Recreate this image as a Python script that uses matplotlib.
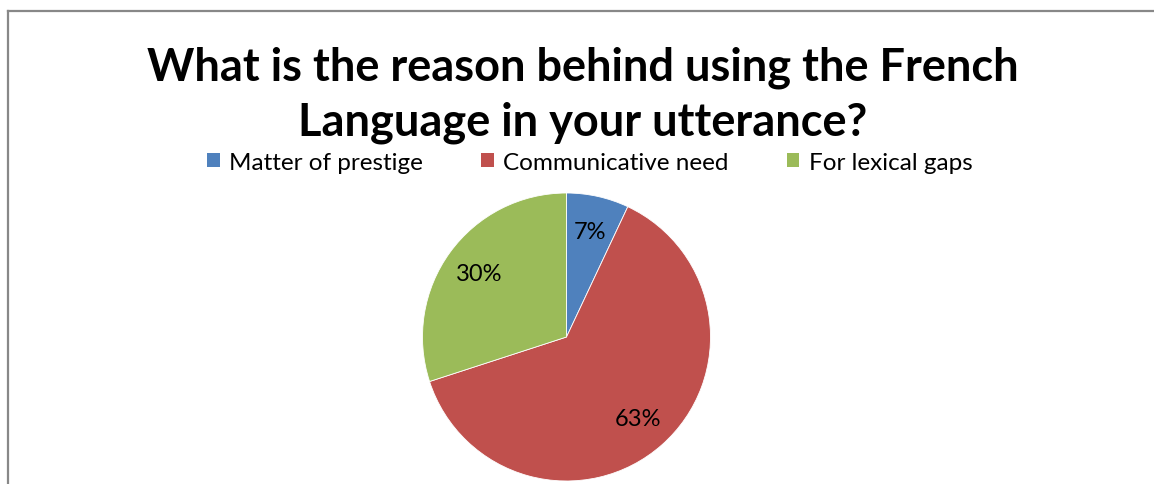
import numpy as np
import matplotlib.pyplot as plt
from matplotlib.lines import Line2D
from matplotlib.patches import Patch

plt.rcParams['font.family'] = ['Lato', 'DejaVu Sans']

# Survey answers
reasons = ["Matter of prestige", "Communicative need", "For lexical gaps"]
shares = [7, 63, 30]
colors = ['#4F81BD', '#C0504D', '#9BBB59']

W, H = 1154, 485
fig = plt.figure(figsize=(W / 100, H / 100), dpi=100)
fig.patch.set_facecolor('white')

# chart frame (top and left edges)
fig.add_artist(Line2D([8 / W, 1.0], [1 - 12 / H, 1 - 12 / H], color='#888888', lw=1.6))
fig.add_artist(Line2D([8 / W, 8 / W], [1 - 12 / H, 0.0], color='#888888', lw=1.6))

fig.text(583 / W, 1 - 95 / H, "What is the reason behind using the French\nLanguage in your utterance?",
         ha='center', va='center', fontsize=32.5, fontweight='bold', linespacing=1.38)

# pie axis placed in pixel coordinates
cx, cy, r = 566.5, 338, 144
ax = fig.add_axes([(cx - r) / W, 1 - (cy + r) / H, 2 * r / W, 2 * r / H])
wedges, _ = ax.pie(shares, colors=colors, startangle=90, counterclock=False,
                   wedgeprops=dict(edgecolor='white', linewidth=0.6))
ax.set_xlim(-1, 1)
ax.set_ylim(-1, 1)
ax.set_aspect('equal')
ax.axis('off')

# percentage labels inside each slice
for w, v in zip(wedges, shares):
    mid = np.deg2rad((w.theta1 + w.theta2) / 2)
    ax.text(0.75 * np.cos(mid), 0.75 * np.sin(mid), f"{v}%", ha='center', va='center', fontsize=17)

handles = [Patch(facecolor=c, edgecolor='none') for c in colors]
fig.legend(handles, reasons, loc='center', bbox_to_anchor=(590 / W, 1 - 163 / H), ncol=3,
           frameon=False, fontsize=17.5, handlelength=0.5, handleheight=0.5,
           handletextpad=0.4, columnspacing=2.4)

fig.savefig('out.png', dpi=100, facecolor='white')
